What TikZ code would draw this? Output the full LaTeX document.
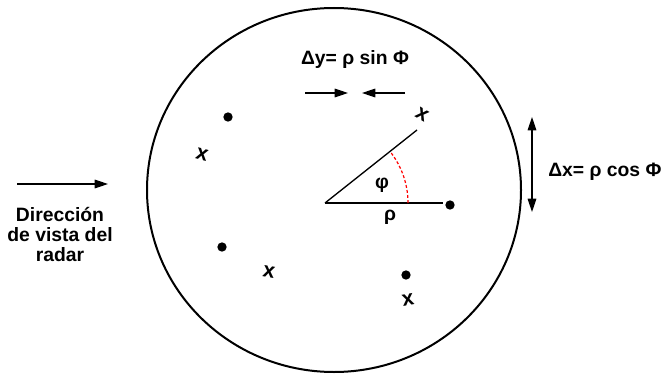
\documentclass[tikz,border=0pt]{standalone}
\usepackage{fontspec}
\setmainfont{Liberation Sans}
\usepackage{tikz}
\usetikzlibrary{calc,positioning,arrows.meta}
\tikzset{
  lbl/.style={
    font=\bfseries\fontsize{14.5}{15}\selectfont,
    inner sep=0pt,
  },
  dotmark/.style={
    circle,
    fill=black,
    minimum size=7pt,
    inner sep=0pt,
  },
  xmark/.style={
    font=\bfseries\fontsize{16}{16}\selectfont,
    inner sep=0pt,
  },
  ray/.style={line width=1pt},
  anglearc/.style={red, dashed, line width=0.9pt, dash pattern=on 2.2pt off 1.6pt},
  shift arrow/.style={line width=0.8pt, -{Triangle[length=10pt,width=6.5pt]}},
  span arrow/.style={line width=0.8pt, {Triangle[length=10pt,width=6.5pt]}-{Triangle[length=10pt,width=6.5pt]}},
}
\begin{document}
\begin{tikzpicture}[x=0.75pt,y=0.75pt]
  \useasboundingbox (0,0) rectangle (671,376);
  % escena
  \coordinate (C) at (334,186);
  \draw[line width=1.5pt] (C) ellipse [x radius=140.25pt, y radius=136.5pt];

  % angulo
  \coordinate (O) at (325,173);
  \coordinate (R1) at (417,246);
  \coordinate (R2) at (443,173);
  \draw[ray] (O) -- (R1);
  \draw[ray] (O) -- (R2);
  \draw[anglearc] ($(O)+(83,0)$) arc[start angle=0, end angle=38.4, radius=62.25pt];
  \node[lbl] (phi) at (382,191) {φ};
  \node[lbl] (rho) at (390,159) {ρ};

  % blancos
  \node[dotmark] (d1) at (228,259) {};
  \node[dotmark] (d2) at (222,129) {};
  \node[dotmark] (d3) at (406,101) {};
  \node[dotmark] (d4) at (450,171) {};
  \node[xmark, rotate=-15] (x1) at (202,221) {x};
  \node[xmark, rotate=-10] (x2) at (269,104) {x};
  \node[xmark, rotate=10] (x3) at (408,76) {x};
  \node[xmark, rotate=-30] (x4) at (422,261) {x};

  % desplazamientos
  \node[lbl] (dy) at (355,316) {Δy= ρ sin Φ};
  \coordinate (dyl) at (305,283);
  \coordinate (dyla) at (348,283);
  \coordinate (dyr) at (405,283);
  \coordinate (dyra) at (362,283);
  \draw[shift arrow] (dyl) -- (dyla);
  \draw[shift arrow] (dyr) -- (dyra);

  \coordinate (dxt) at (532,259);
  \coordinate (dxb) at (532,164);
  \draw[span arrow] (dxt) -- (dxb);
  \node[lbl, anchor=west] (dx) at (548,204) {Δx= ρ cos Φ};

  % radar
  \coordinate (rs) at (17,192);
  \coordinate (re) at (108,192);
  \draw[shift arrow] (rs) -- (re);
  \node[lbl, align=center] (radar) at (60,141) {Dirección\\de vista del\\radar};
\end{tikzpicture}
\end{document}
